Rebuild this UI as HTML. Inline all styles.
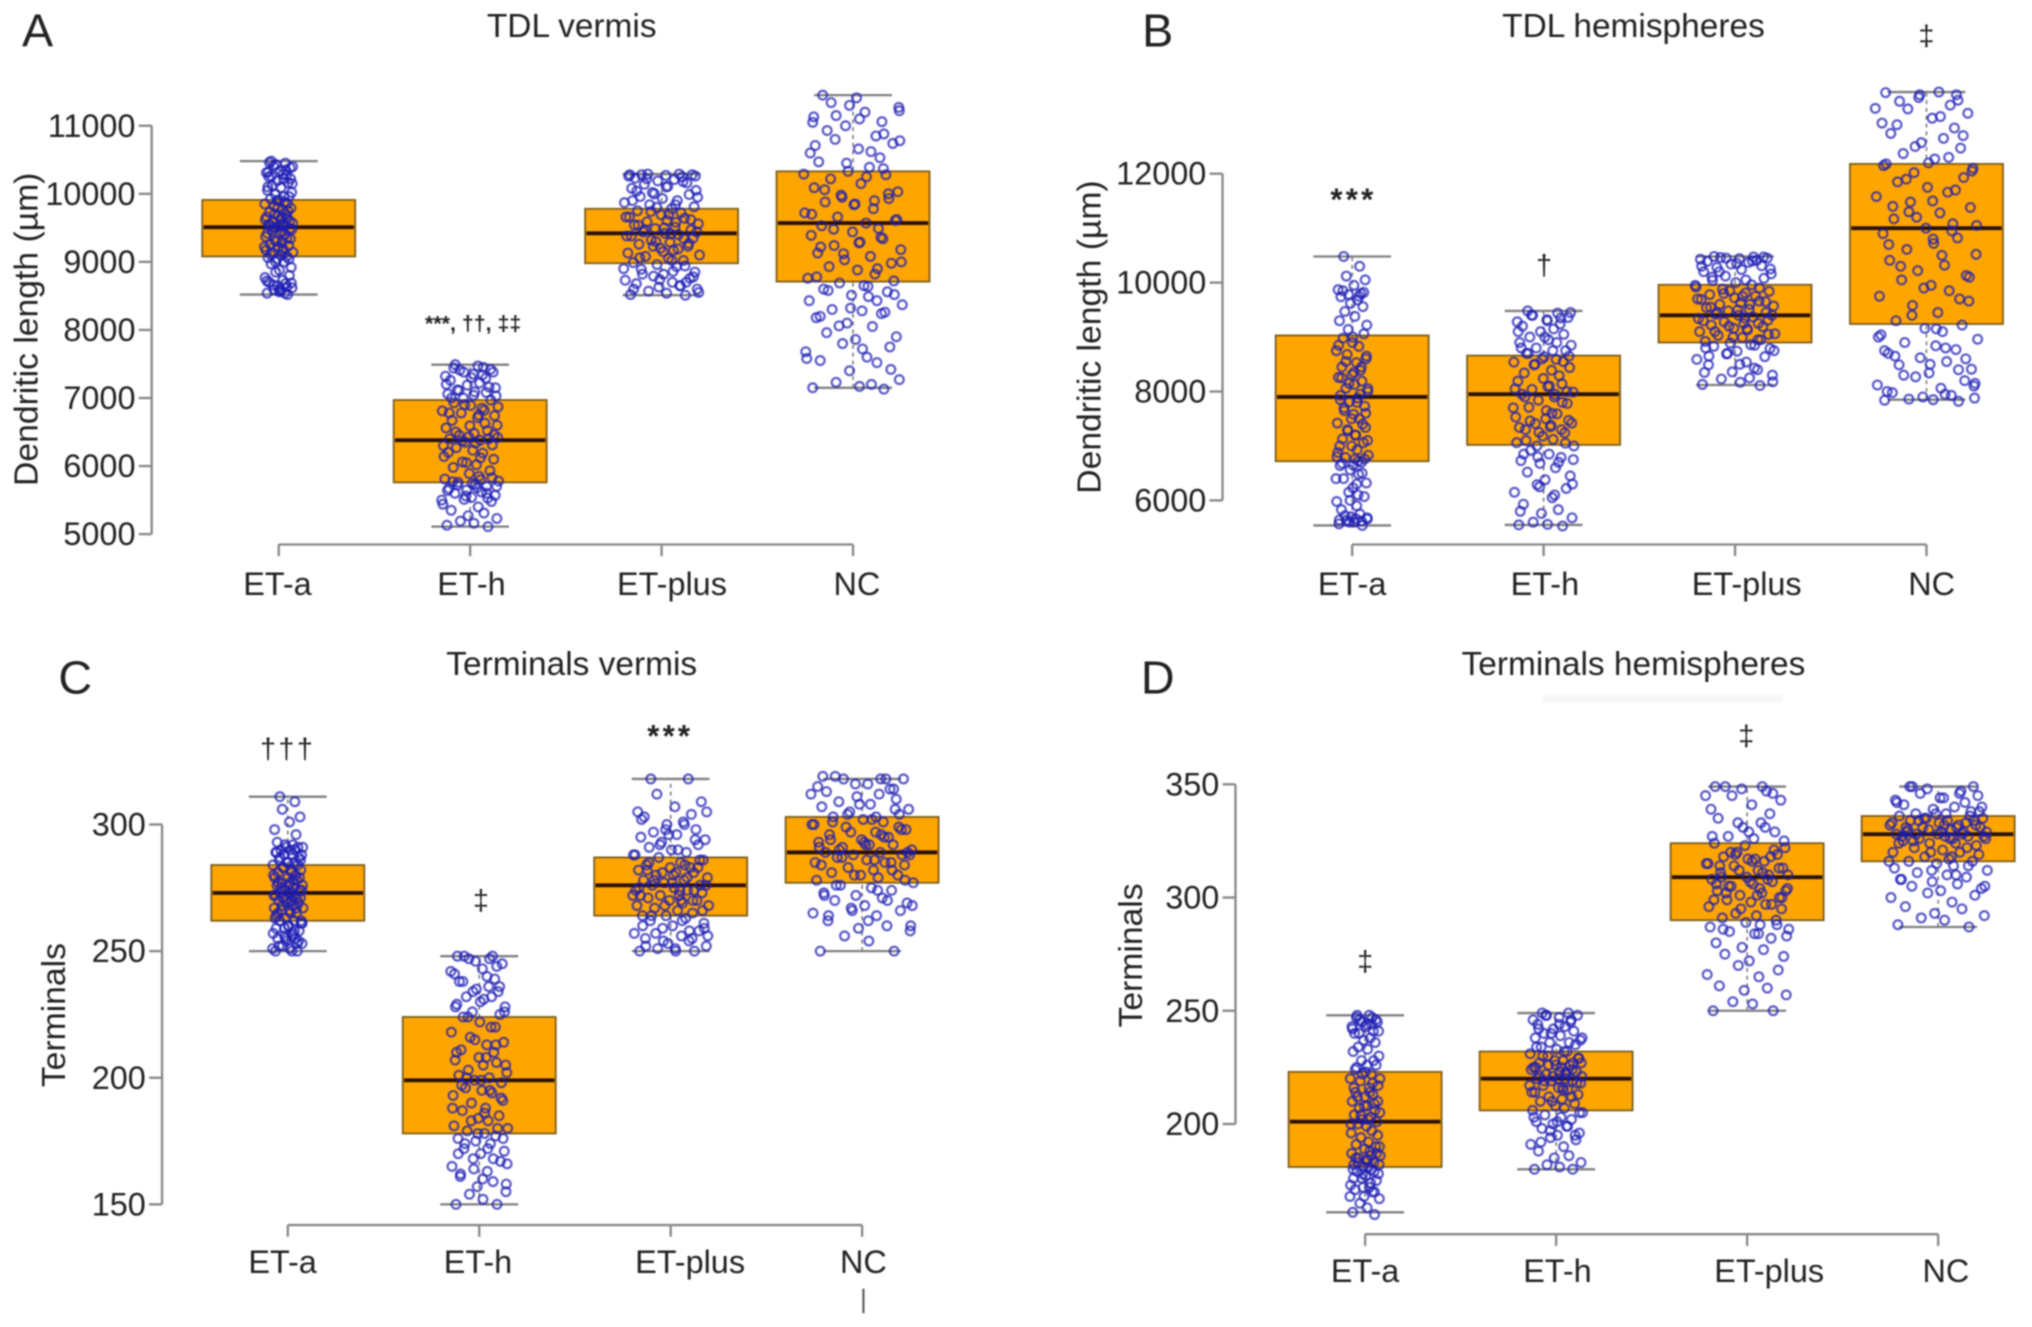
<!DOCTYPE html>
<html lang="en">
<head>
<meta charset="utf-8">
<title>Dendritic length and terminals box plots</title>
<style>
html,body{margin:0;padding:0;background:#fff;width:2032px;height:1327px;overflow:hidden}
svg{display:block;filter:blur(0.7px)}
text{font-family:"Liberation Sans",sans-serif;fill:#222}
.title{font-size:25.8px;text-anchor:middle}
.letter{font-size:36px;text-anchor:middle}
.ylab{font-size:26px;text-anchor:middle}
.tick{font-size:25px;text-anchor:end}
.cat{font-size:25px;text-anchor:middle}
.ann{font-size:24px;text-anchor:middle;font-weight:bold;letter-spacing:2.5px}
.dag{font-size:22px;font-weight:normal;letter-spacing:0}
</style>
</head>
<body>
<svg id="fig" xmlns="http://www.w3.org/2000/svg" width="2032" height="1327" viewBox="0 0 1567.4 1023.6" preserveAspectRatio="none">
<g>
<text class="letter" x="29" y="36">A</text>
<text class="letter" x="893" y="36">B</text>
<text class="letter" x="58" y="535">C</text>
<text class="letter" x="893" y="535">D</text>
</g>
<g>
<text class="title" x="441" y="28.5">TDL vermis</text>
<text class="title" x="1260" y="28.5">TDL hemispheres</text>
<text class="title" x="441" y="520.5">Terminals vermis</text>
<text class="title" x="1260" y="520.5">Terminals hemispheres</text>
</g>
<rect x="1190" y="536" width="185" height="6" fill="#f7f7f7"/>
<g>
<text class="ylab" transform="translate(29,254) rotate(-90)">Dendritic length (µm)</text>
<text class="ylab" transform="translate(849,260) rotate(-90)">Dendritic length (µm)</text>
<text class="ylab" transform="translate(50,783) rotate(-90)">Terminals</text>
<text class="ylab" transform="translate(881,737) rotate(-90)">Terminals</text>
</g>
<g>
<text class="ann" x="365" y="255" style="font-size:16.5px;letter-spacing:0">***, ††, ‡‡</text>
<text class="ann" x="1044" y="162">***</text>
<text class="ann dag" x="1191" y="212">†</text>
<text class="ann dag" x="1486" y="35">‡</text>
<text class="ann dag" x="222" y="585" style="letter-spacing:2px">†††</text>
<text class="ann dag" x="371" y="702">‡</text>
<text class="ann" x="517" y="576">***</text>
<text class="ann dag" x="1053" y="749">‡</text>
<text class="ann dag" x="1347" y="575">‡</text>
</g>
<line x1="666" y1="994" x2="666" y2="1013" stroke="#555" stroke-width="1.6"/>
</svg>
<script>
const categories = ["ET-a", "ET-h", "ET-plus", "NC"];

// Panel A: TDL vermis
const ticksA = [5000, 6000, 7000, 8000, 9000, 10000, 11000];
const lowA = [8520, 5110, 8510, 7150];
const q1A = [9080, 5760, 8980, 8710];
const medianA = [9510, 6380, 9420, 9570];
const q3A = [9910, 6970, 9780, 10330];
const highA = [10480, 7490, 10290, 11450];
const spreadA = [0.075, 0.15, 0.2, 0.26];
const pointsAEtA = [8520,8540,8570,8590,8620,8650,8680,8700,8730,8770,8800,8850,8880,8920,8970,9000,9040,9060,9080,9100,9130,9140,9170,9190,9220,9240,9260,9290,9310,9340,9370,9400,9430,9460,9490,9510,9530,9550,9570,9590,9610,9640,9660,9680,9700,9730,9760,9790,9820,9850,9880,9910,9930,9960,9990,10020,10050,10090,10120,10160,10190,10220,10250,10280,10310,10340,10380,10410,10450,10480,9300,9350,9420,9450,9480,9500,9520,9540,9560,9600,9620,9650,9700,9750,9800,10220,10260,10290,10320,10350,10400,10430,10460,8600,8630,8660,8690,8720,8560,8540,9000,9040,9110,9160,9220,9860,9900,9960,10100,10150];
const pointsAEtH = [5110,5130,5160,5190,5230,5270,5310,5350,5400,5440,5480,5510,5540,5570,5600,5620,5650,5670,5700,5730,5760,5780,5810,5850,5890,5930,5980,6020,6060,6100,6140,6190,6230,6270,6310,6350,6380,6400,6420,6450,6480,6520,6560,6590,6630,6670,6710,6740,6780,6810,6850,6890,6930,6970,7000,7030,7060,7090,7120,7160,7190,7220,7260,7290,7320,7350,7380,7410,7450,7490,5560,5600,5640,5680,5700,5720,5740,5770,5800,5830,6300,6340,6370,6400,6430,6460,6500,6750,6780,6820,6870,6900,7000,7040,7080,7110,7150,7200,7300,7340,7380,7420,7440,7470,5500,5530,6050,6120,6200,6600];
const pointsAEtPlus = [8510,8520,8540,8570,8600,8630,8650,8680,8700,8730,8760,8790,8820,8850,8890,8930,8960,8990,9020,9050,9080,9100,9130,9170,9200,9230,9260,9290,9320,9350,9380,9400,9420,9440,9470,9490,9510,9540,9560,9590,9610,9640,9660,9690,9720,9750,9780,9810,9840,9870,9900,9930,9960,9990,10020,10050,10080,10110,10140,10160,10190,10210,10230,10250,10260,10270,10280,10290,10290,10280,9300,9340,9380,9410,9440,9470,9500,9540,9580,9620,9660,9700,9740,8700,8740,8780,8820,8860,8600,8650,8550,10000,10040,10100,10180,10220,10260,10280,9150,9190,9230,9270,9060,9020,8900,8940,9800,9840,9900,9950];
const pointsANC = [7130,7150,7170,7230,7270,7400,7520,7550,7600,7680,7750,7800,7860,7900,7960,8050,8100,8180,8240,8280,8300,8370,8430,8490,8510,8560,8600,8650,8690,8720,8760,8820,8880,8930,8980,9030,9080,9130,9180,9240,9290,9340,9390,9440,9490,9530,9570,9610,9660,9720,9780,9840,9880,9930,9980,10030,10090,10150,10220,10280,10330,10390,10470,10530,10600,10660,10740,10800,10850,10930,11000,11060,11130,11200,11270,11340,11410,11450,7200,7420,7580,7720,8060,8260,8320,8520,8580,8640,8780,8900,9000,9120,9220,9280,9360,9480,9620,9700,9850,9900,9950,10000,10060,10250,10290,10370,10450,10620,10710,10780,10880,11050,11100,11150,11220,11300,8430,8200];

// Panel B: TDL hemispheres
const ticksB = [6000, 8000, 10000, 12000];
const lowB = [5540, 5550, 8120, 7850];
const q1B = [6720, 7020, 8900, 9240];
const medianB = [7900, 7950, 9400, 11000];
const q3B = [9030, 8660, 9960, 12180];
const highB = [10480, 9480, 10480, 13500];
const spreadB = [0.085, 0.16, 0.21, 0.27];
const pointsBEtA = [5540,5570,5600,5630,5660,5700,5750,5830,5900,5980,6070,6150,6230,6320,6400,6480,6560,6640,6700,6760,6790,6830,6880,6930,7000,7060,7130,7200,7280,7340,7420,7500,7580,7650,7730,7810,7880,7930,8000,8060,8130,8190,8260,8310,8390,8450,8530,8600,8680,8750,8830,8900,8980,9060,9140,9220,9300,9380,9470,9560,9620,9680,9740,9800,9870,9950,10050,10120,10300,10480,5600,5620,5640,5660,5680,5720,6650,6680,6720,6760,6800,7200,7300,7400,7500,7600,7700,7800,7850,7950,8050,8150,8250,8350,8450,8550,8650,8850,9000,9750,9780,9820,9850,6300,6400,6500,6000,6100,7000,7100];
const pointsBEtH = [5530,5550,5560,5600,5680,5760,5830,5930,6050,6150,6220,6290,6380,6450,6520,6600,6680,6730,6790,6850,6920,7000,7060,7120,7180,7240,7300,7350,7410,7470,7530,7590,7650,7710,7780,7840,7900,7950,7990,8040,8090,8140,8190,8240,8290,8340,8390,8440,8490,8540,8590,8640,8700,8750,8800,8850,8900,8950,9000,9050,9100,9150,9200,9240,9280,9320,9360,9400,9440,9480,7250,7300,7340,7380,7420,7460,7500,7900,7950,8000,8050,8100,8500,8550,8600,8650,8700,8750,8800,6700,6750,6800,6850,9300,9350,9400,9450,9100,9000,8900,7000,7050,7100,7600,7700,7800,6250,6100,5800,6300];
const pointsBEtPlus = [8110,8130,8170,8230,8300,8360,8430,8490,8540,8590,8640,8690,8740,8790,8830,8860,8890,8920,8950,8990,9030,9060,9100,9130,9160,9190,9220,9250,9280,9310,9340,9370,9400,9420,9450,9480,9510,9540,9570,9600,9630,9660,9690,9720,9750,9780,9810,9840,9880,9920,9960,10000,10040,10080,10120,10160,10200,10240,10280,10310,10340,10370,10390,10410,10430,10440,10450,10460,10470,10480,9200,9250,9300,9350,9400,9450,9500,9550,9600,9650,9700,9750,9800,8950,9000,9050,9100,9150,8800,8850,8750,8700,8650,8500,8400,10200,10250,10300,10350,10400,10450,10470,10100,10050,9950,9900,9850,8250,8350,8180];
const pointsBNC = [7820,7840,7850,7860,7880,7900,7930,7980,8060,8120,8200,8270,8340,8410,8490,8550,8620,8700,8770,8840,8900,8960,9040,9100,9160,9220,9300,9450,9580,9660,9750,9850,9950,10050,10130,10220,10320,10410,10520,10610,10720,10820,10900,11000,11080,11170,11280,11380,11480,11580,11660,11750,11850,11930,12020,12100,12180,12270,12370,12470,12570,12650,12740,12840,12930,13020,13110,13190,13260,13330,13400,13450,13490,13500,8100,8300,8500,8650,8800,8600,9000,9150,9400,9700,9900,10100,10300,10500,10700,10950,11050,11200,11400,11500,11700,11900,12050,12150,12200,12300,12500,12700,12900,13050,13200,13350,13450,7950,8000,8150,8400,8750,10800,11300];

// Panel C: Terminals vermis
const ticksC = [150, 200, 250, 300];
const lowC = [250, 150, 250, 250];
const q1C = [262, 178, 264, 277];
const medianC = [273, 199, 276, 289];
const q3C = [284, 224, 287, 303];
const highC = [311, 248, 318, 318];
const spreadC = [0.08, 0.15, 0.2, 0.27];
const pointsCEtA = [250,250,251,252,253,254,255,255,256,257,258,259,260,261,262,262,263,264,265,265,266,267,267,268,269,269,270,270,271,271,272,272,273,273,274,274,275,276,276,277,277,278,279,279,280,281,281,282,283,284,285,285,286,287,288,288,289,290,290,291,291,292,293,296,298,301,303,306,309,311,270,271,272,273,274,275,276,277,278,279,280,282,283,284,285,286,287,288,289,290,291,292,265,266,267,268,262,263,260,258,256,254,252,250,251,253,255,257,259,261];
const pointsCEtH = [150,150,152,154,155,157,159,161,163,165,167,168,170,171,172,174,175,176,177,178,179,180,181,183,184,185,187,188,190,191,193,194,195,196,198,199,200,201,202,203,205,206,207,208,210,211,213,214,216,218,220,222,224,225,226,228,229,231,232,234,235,236,238,239,241,243,245,247,248,248,215,213,210,208,205,200,199,197,195,192,188,186,183,180,178,176,174,172,170,168,166,164,162,160,220,224,226,228,230,232,234,236,238,240,242,244,246,247,248,158];
const pointsCEtPlus = [250,250,250,251,252,253,254,255,256,257,258,259,260,261,262,263,264,264,265,266,267,268,268,269,270,270,271,272,272,273,274,274,275,276,276,277,278,278,279,280,281,281,282,283,283,284,285,286,287,288,289,290,291,292,293,294,295,296,297,298,300,301,303,304,305,307,309,312,318,318,268,270,272,274,276,278,280,282,284,286,288,290,292,294,296,266,264,262,260,258,256,254,252,251,255,257,259,275,277,279,281,283,285,270,272,274,298,300,302,305];
const pointsCNC = [250,250,254,256,258,259,260,262,264,265,266,267,268,269,270,271,272,273,274,275,276,277,278,279,280,280,281,282,283,284,285,285,286,287,288,288,289,289,290,291,292,292,293,294,295,296,297,298,299,300,301,302,303,304,305,306,307,308,309,310,311,312,313,314,315,316,318,318,318,319,280,282,284,286,288,290,292,294,296,298,300,302,304,306,308,278,276,274,272,270,268,266,264,262,285,287,289,291,293,295,297,299,301,303,312,314,316,318,319,260];

// Panel D: Terminals hemispheres
const ticksD = [200, 250, 300, 350];
const lowD = [161, 180, 250, 287];
const q1D = [181, 206, 290, 316];
const medianD = [201, 220, 309, 328];
const q3D = [223, 232, 324, 336];
const highD = [248, 249, 349, 349];
const spreadD = [0.08, 0.14, 0.22, 0.26];
const pointsDEtA = [160,161,163,165,167,168,170,171,172,173,175,176,177,178,179,180,181,182,183,184,185,186,187,188,189,190,191,192,194,195,196,197,199,200,201,202,203,204,205,207,208,209,210,212,213,214,216,217,219,220,222,223,225,226,228,230,232,233,234,236,237,238,240,241,243,244,245,246,247,248,178,179,180,181,182,183,184,185,186,187,200,202,204,206,208,210,212,214,216,218,220,222,224,226,228,240,241,242,243,244,245,246,247,248,168,170,172,174,176,190];
const pointsDEtH = [180,180,181,182,183,185,186,188,190,191,193,194,195,196,198,199,200,201,202,203,204,205,206,207,208,209,210,211,212,213,214,215,216,217,218,219,220,220,221,222,223,224,225,226,226,227,228,229,230,231,232,233,234,235,236,237,238,239,240,241,242,243,244,245,246,247,248,248,249,249,210,212,214,216,218,219,220,221,222,223,224,225,226,227,228,229,230,232,234,236,238,240,242,244,246,248,205,203,201,199,197,195,192,215,217,219,221,223,225,227];
const pointsDEtPlus = [250,250,253,254,257,259,260,261,265,266,268,270,272,274,275,277,278,280,282,284,285,286,287,288,289,290,291,292,293,295,296,297,298,299,300,301,302,303,304,305,306,307,308,309,310,311,312,313,314,315,316,317,318,319,320,322,324,326,327,329,331,333,335,337,339,341,343,345,347,349,295,297,299,301,303,305,307,309,311,313,315,317,319,321,323,300,302,304,306,308,310,312,314,316,318,320,325,327,329,331,333,288,286,284,345,346,348,349,349,283];
const pointsDNC = [287,288,290,291,292,293,295,296,298,300,301,302,303,304,305,306,307,308,309,310,311,312,313,314,315,316,316,317,318,319,320,320,321,322,323,324,324,325,326,326,327,327,328,328,329,329,330,331,331,332,332,333,334,334,335,335,336,337,337,338,339,340,341,342,343,344,345,346,347,349,320,322,324,326,327,328,329,330,331,332,333,334,335,336,337,338,325,326,327,328,329,330,331,332,333,334,340,342,344,346,348,349,349,318,316,314,312,310,308,305];

// Relative horizontal jitter of each point, as a share of the group's spread
const jitter = [.62,-.81,.13,-.34,.93,-.07,.48,-.66,.28,-.95,.74,-.21,.05,.87,-.53,.39,-.12,-.74,.57,.18,-.42,.99,-.88,.31,-.03,.69,-.59,.22,-.27,.82,-.91,.44,.09,-.48,.77,-.17,.35,-.71,.96,-.38,.14,.6,-.84,-.01,.51,-.63,.26,.85,-.31,-.97,.41,.02,-.56,.72,-.24,.9,-.78,.16,-.45,.66,-.1,.33,-.69,.54,-.86,.11,.8,-.36,.46,-.52,-.15,.58,-.79,.24,.92,-.44,.07,-.61,.37,.76,-.93,.19,-.28,.64,-.05,.83,-.5,.3,-.73,.49,.97,-.19,-.65,.12,.56,-.39,.88,-.83,.04,.43,-.22,.71,-.57,.27,-.99,.61,-.13,.36,-.76,.94];

const svg = document.getElementById('fig');
const NS = 'http://www.w3.org/2000/svg';

function make(parent, tag, attrs) {
  const el = document.createElementNS(NS, tag);
  for (const k in attrs) el.setAttribute(k, attrs[k]);
  parent.appendChild(el);
  return el;
}

function linearScale(d0, d1, r0, r1) {
  return function (v) { return r0 + (v - d0) * (r1 - r0) / (d1 - d0); };
}

function drawPanel(id, geo, ticks, low, q1, median, q3, high, spread, points) {
  const y = linearScale(geo.d0, geo.d1, geo.r0, geo.r1);
  const x = linearScale(0, 3, geo.x0, geo.x3);
  const panel = make(svg, 'g', {});
  
  

  // y axis
  const yAxis = make(panel, 'line', {x1: geo.ax, x2: geo.ax, y1: y(ticks[0]), y2: y(ticks[ticks.length - 1]), stroke: '#888', 'stroke-width': 1.8});
  
  
  ticks.forEach(function (t) {
    const tl = make(panel, 'line', {x1: geo.ax - 10, x2: geo.ax, y1: y(t), y2: y(t), stroke: '#888', 'stroke-width': 1.8});
    
    
    const lab = make(panel, 'text', {class: 'tick', x: geo.ax - 12.5, y: y(t) + 8.5});
    lab.textContent = String(t);
    
    
  });

  // x axis
  const xAxis = make(panel, 'line', {x1: x(0), x2: x(3), y1: geo.axisY, y2: geo.axisY, stroke: '#888', 'stroke-width': 1.8});
  
  

  categories.forEach(function (c, i) {
    const cx = x(i);
    const tk = make(panel, 'line', {x1: cx, x2: cx, y1: geo.axisY, y2: geo.axisY + 9, stroke: '#888', 'stroke-width': 1.8});
    
    
    const lab = make(panel, 'text', {class: 'cat', x: cx + geo.labelDx[i], y: geo.labelY});
    lab.textContent = c;
    
    

    const stem = make(panel, 'line', {x1: cx, x2: cx, y1: y(low[i]), y2: y(high[i]), stroke: '#777', 'stroke-width': 1.2, 'stroke-dasharray': '3 3'});
    
    
    [low[i], high[i]].forEach(function (w, j) {
      const cap = make(panel, 'line', {x1: cx - 30, x2: cx + 30, y1: y(w), y2: y(w), stroke: '#808080', 'stroke-width': 1.8});
      
      
    });
    const box = make(panel, 'rect', {x: cx - 59, y: y(q3[i]), width: 118, height: y(q1[i]) - y(q3[i]), fill: '#FFA500', stroke: '#7d5f1e', 'stroke-width': 1.4});
    
    
    const med = make(panel, 'line', {x1: cx - 58, x2: cx + 58, y1: y(median[i]), y2: y(median[i]), stroke: '#2a1200', 'stroke-width': 3});
    
    

    const group = make(panel, 'g', {fill: 'none', stroke: '#1c1cb4', 'stroke-opacity': 0.72, 'stroke-width': 1.7});
    
    
    points[i].forEach(function (v, k) {
      const jx = jitter[k % jitter.length] * spread[i];
      const p = make(group, 'circle', {cx: x(i + jx), cy: y(v), r: 3.4});
      
      
    });
  });
}

drawPanel('a', {d0: 5000, d1: 11000, r0: 412, r1: 97, x0: 215, x3: 658, ax: 117, axisY: 420, labelY: 459, labelDx: [-1, 1, 8, 3]},
  ticksA, lowA, q1A, medianA, q3A, highA, spreadA, [pointsAEtA, pointsAEtH, pointsAEtPlus, pointsANC]);
drawPanel('b', {d0: 6000, d1: 12000, r0: 386, r1: 134, x0: 1043, x3: 1486, ax: 943, axisY: 420, labelY: 459, labelDx: [0, 1, 9, 4]},
  ticksB, lowB, q1B, medianB, q3B, highB, spreadB, [pointsBEtA, pointsBEtH, pointsBEtPlus, pointsBNC]);
drawPanel('c', {d0: 150, d1: 300, r0: 929, r1: 636, x0: 222, x3: 665, ax: 125, axisY: 945, labelY: 982, labelDx: [-4, -1, 15, 1]},
  ticksC, lowC, q1C, medianC, q3C, highC, spreadC, [pointsCEtA, pointsCEtH, pointsCEtPlus, pointsCNC]);
drawPanel('d', {d0: 200, d1: 350, r0: 867, r1: 605, x0: 1053, x3: 1495, ax: 953, axisY: 952, labelY: 989, labelDx: [0, 1, 17, 6]},
  ticksD, lowD, q1D, medianD, q3D, highD, spreadD, [pointsDEtA, pointsDEtH, pointsDEtPlus, pointsDNC]);
</script>
</body>
</html>
